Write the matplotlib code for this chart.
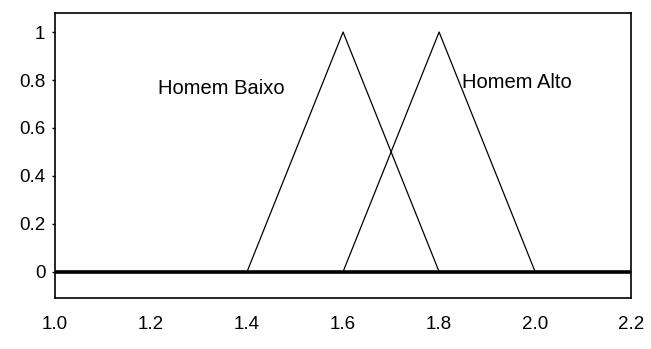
import matplotlib.pyplot as plt

plt.rcParams['font.family'] = ['Liberation Sans', 'DejaVu Sans']

# funções de pertinência (triangulares)
baixo_x = [1.4, 1.6, 1.8]
baixo_y = [0, 1, 0]
alto_x = [1.6, 1.8, 2.0]
alto_y = [0, 1, 0]
base_x = [1.0, 2.2]
base_y = [0, 0]

x_ticks = [1.0, 1.2, 1.4, 1.6, 1.8, 2.0, 2.2]
x_labels = ['1.0', '1.2', '1.4', '1.6', '1.8', '2.0', '2.2']
y_ticks = [0, 0.2, 0.4, 0.6, 0.8, 1]
y_labels = ['0', '0.2', '0.4', '0.6', '0.8', '1']

fig = plt.figure(figsize=(6.51, 3.49), dpi=100)
ax = fig.add_axes([0.0845, 0.146, 0.885, 0.817])

ax.plot(base_x, base_y, color='black', linewidth=2.6, solid_capstyle='butt')
ax.plot(baixo_x, baixo_y, color='black', linewidth=0.9)
ax.plot(alto_x, alto_y, color='black', linewidth=0.9)

ax.text(1.215, 0.765, 'Homem Baixo', fontsize=14.5, va='center', ha='left')
ax.text(1.848, 0.79, 'Homem Alto', fontsize=14.5, va='center', ha='left')

ax.set_xlim(1.0, 2.2)
ax.set_ylim(-0.11, 1.08)
ax.set_xticks(x_ticks)
ax.set_xticklabels(x_labels)
ax.set_yticks(y_ticks)
ax.set_yticklabels(y_labels)
ax.tick_params(axis='x', length=0, pad=13, labelsize=13.5)
ax.tick_params(axis='y', length=2, width=1.0, pad=5, labelsize=13.5)
for s in ax.spines.values():
    s.set_linewidth(1.2)

fig.savefig('out.png', dpi=100)
